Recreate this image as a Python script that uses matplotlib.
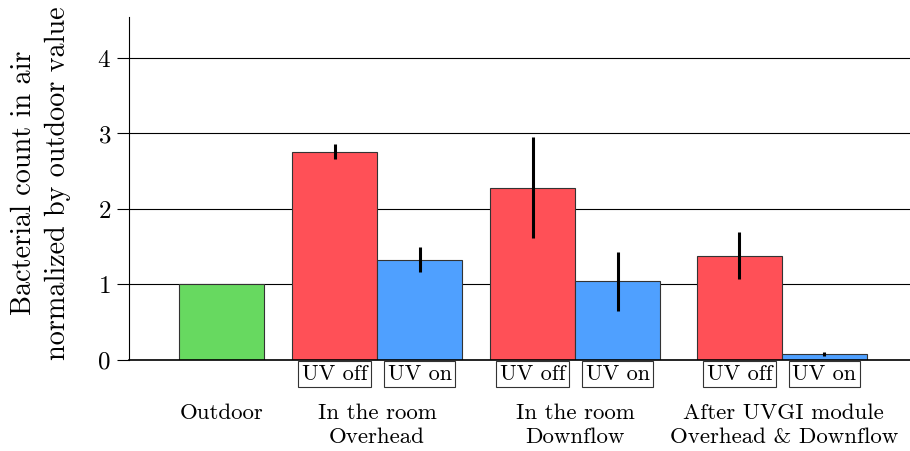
"""Bacterial count in air, normalized by the outdoor value (UV off / UV on)."""

import matplotlib

matplotlib.use("Agg")
import matplotlib.pyplot as plt

plt.rcParams["font.family"] = "cmr10"
plt.rcParams["axes.formatter.use_mathtext"] = True

# data
groups = ["Outdoor", "In the room\nOverhead", "In the room\nDownflow",
          "After UVGI module\nOverhead & Downflow"]
outdoor_value = 1.0
uv_off = [2.76, 2.28, 1.38]
uv_off_err = [0.10, 0.67, 0.31]
uv_on = [1.33, 1.04, 0.08]
uv_on_err = [0.17, 0.39, 0.03]
cond_labels = ["UV off", "UV on"]

# layout (bar width = 1 unit)
outdoor_x = 1.088
off_x = [2.418, 4.747, 7.182]
on_x = [x + 1 for x in off_x]

RED = "#FF5057"
BLUE = "#4FA0FF"
GREEN = "#67D960"


def main():
    fig = plt.figure(figsize=(9.10, 4.51), dpi=100)
    ax = fig.add_axes([129 / 910, 91 / 451, 781 / 910, 343 / 451])

    ax.set_axisbelow(True)
    ax.yaxis.grid(True, color="black", lw=0.8)

    bar_kw = dict(width=1.0, edgecolor="#333333", linewidth=0.8)
    err_kw = dict(ecolor="black", elinewidth=2.2, capsize=0)
    ax.bar([outdoor_x], [outdoor_value], color=GREEN, **bar_kw)
    ax.bar(off_x, uv_off, yerr=uv_off_err, color=RED, error_kw=err_kw, **bar_kw)
    ax.bar(on_x, uv_on, yerr=uv_on_err, color=BLUE, error_kw=err_kw, **bar_kw)

    ax.set_xlim(0, 9.188)
    ax.set_ylim(0, 4.543)
    ax.set_yticks([0, 1, 2, 3, 4])
    ax.set_xticks([])
    ax.tick_params(axis="y", labelsize=18, length=9, width=0.8, pad=4)
    for s in ["top", "right"]:
        ax.spines[s].set_visible(False)
    ax.spines["left"].set_linewidth(0.8)
    ax.spines["bottom"].set_linewidth(1.2)

    tr = ax.get_xaxis_transform()
    box = dict(boxstyle="square,pad=0.15", facecolor="white", edgecolor="#333333", lw=0.8)
    for xs, lab in [(off_x, cond_labels[0]), (on_x, cond_labels[1])]:
        for x in xs:
            ax.text(x, -0.042, lab, transform=tr, ha="center", va="center",
                    fontsize=16, bbox=box, clip_on=False)

    group_x = [outdoor_x] + [x + 0.5 for x in off_x]
    group_x[3] += 0.02
    for x, lab in zip(group_x, groups):
        ax.text(x, -0.128, lab, transform=tr, ha="center", va="top",
                fontsize=16.5, linespacing=1.28, clip_on=False)

    fig.text(41 / 910, 1 - 183 / 451,
             "Bacterial count in air\nnormalized by outdoor value",
             rotation=90, ha="center", va="center", fontsize=20.3, linespacing=1.38)

    fig.savefig("out.png", dpi=100)
    plt.close(fig)


if __name__ == "__main__":
    main()
